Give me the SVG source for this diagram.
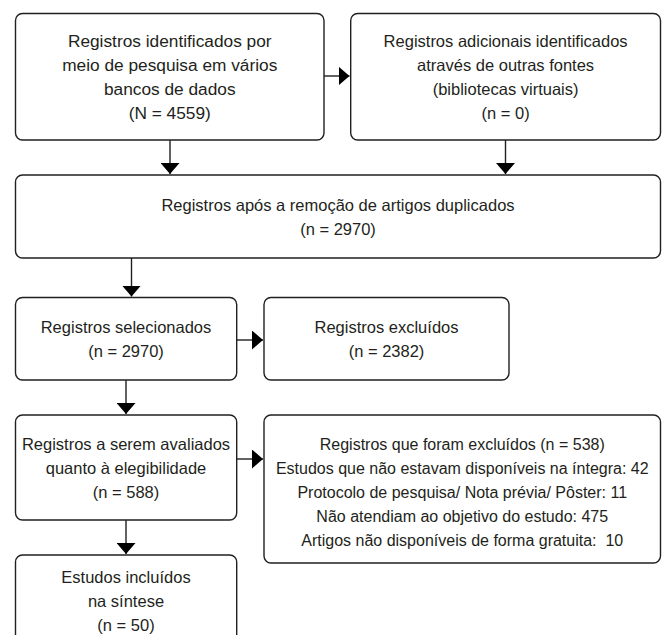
<svg xmlns="http://www.w3.org/2000/svg" width="662" height="635" viewBox="0 0 662 635">
  <style>
    .box { fill: #ffffff; stroke: #231f20; stroke-width: 1.4; }
    .t { font-family: "Liberation Sans", Arial, sans-serif; font-size: 16.5px; fill: #231f20; text-anchor: middle; }
    .s { font-size: 16px; }
    .b { font-size: 17.3px; }
    .c { stroke: #231f20; stroke-width: 1.4; fill: none; marker-end: url(#ah); }
  </style>
  <defs>
    <marker id="ah" viewBox="0 0 11 19" refX="11" refY="9.5" markerWidth="11" markerHeight="19" markerUnits="userSpaceOnUse" orient="auto">
      <path d="M0,0 L11,9.5 L0,19 Z" fill="#000000"/>
    </marker>
  </defs>
  <rect width="662" height="635" fill="#ffffff"/>

  <g id="connectors">
    <line class="c" x1="324" y1="76" x2="349.5" y2="76"/>
    <line class="c" x1="170" y1="140" x2="170" y2="174"/>
    <line class="c" x1="505.5" y1="140" x2="505.5" y2="174"/>
    <line class="c" x1="131.5" y1="258" x2="131.5" y2="296.5"/>
    <line class="c" x1="236.7" y1="340" x2="263" y2="340"/>
    <line class="c" x1="126" y1="380" x2="126" y2="414"/>
    <line class="c" x1="236.7" y1="459" x2="263" y2="459"/>
    <line class="c" x1="126" y1="520" x2="126" y2="554"/>
  </g>

  <g id="n1">
    <rect class="box" x="15.5" y="13.5" width="308.5" height="126.5" rx="7"/>
    <text class="t b" x="169.75" y="46.5">Registros identificados por</text>
    <text class="t b" x="169.75" y="70.5">meio de pesquisa em vários</text>
    <text class="t b" x="169.75" y="94.5">bancos de dados</text>
    <text class="t b" x="169.75" y="118.5">(N = 4559)</text>
  </g>

  <g id="n2">
    <rect class="box" x="350.7" y="13.5" width="309.8" height="126.5" rx="7"/>
    <text class="t" x="505.6" y="46.5">Registros adicionais identificados</text>
    <text class="t" x="505.6" y="70.5">através de outras fontes</text>
    <text class="t" x="505.6" y="94.5">(bibliotecas virtuais)</text>
    <text class="t" x="505.6" y="118.5">(n = 0)</text>
  </g>

  <g id="n3">
    <rect class="box" x="15.5" y="175" width="645" height="83" rx="7"/>
    <text class="t" x="338" y="210.5">Registros após a remoção de artigos duplicados</text>
    <text class="t" x="338" y="234.5">(n = 2970)</text>
  </g>

  <g id="n4">
    <rect class="box" x="15.5" y="297.5" width="221.2" height="82.5" rx="7"/>
    <text class="t" x="126" y="333">Registros selecionados</text>
    <text class="t" x="126" y="357">(n = 2970)</text>
  </g>

  <g id="n5">
    <rect class="box" x="264" y="297.5" width="245" height="82.5" rx="7"/>
    <text class="t" x="386.5" y="333">Registros excluídos</text>
    <text class="t" x="386.5" y="357">(n = 2382)</text>
  </g>

  <g id="n6">
    <rect class="box" x="15.5" y="415" width="221.2" height="105" rx="7"/>
    <text class="t" x="126" y="449.5">Registros a serem avaliados</text>
    <text class="t" x="126" y="473.5">quanto à elegibilidade</text>
    <text class="t" x="126" y="497.5">(n = 588)</text>
  </g>

  <g id="n7">
    <rect class="box" x="264" y="415" width="396.5" height="148" rx="7"/>
    <text class="t s" x="462.25" y="450">Registros que foram excluídos (n = 538)</text>
    <text class="t s" x="462.25" y="474">Estudos que não estavam disponíveis na íntegra: 42</text>
    <text class="t s" x="462.25" y="498">Protocolo de pesquisa/ Nota prévia/ Pôster: 11</text>
    <text class="t s" x="462.25" y="522">Não atendiam ao objetivo do estudo: 475</text>
    <text class="t s" x="462.25" y="546" xml:space="preserve">Artigos não disponíveis de forma gratuita:  10</text>
  </g>

  <g id="n8">
    <rect class="box" x="15.5" y="555" width="221.2" height="95" rx="7"/>
    <text class="t" x="126" y="583">Estudos incluídos</text>
    <text class="t" x="126" y="607">na síntese</text>
    <text class="t" x="126" y="631">(n = 50)</text>
  </g>
</svg>
